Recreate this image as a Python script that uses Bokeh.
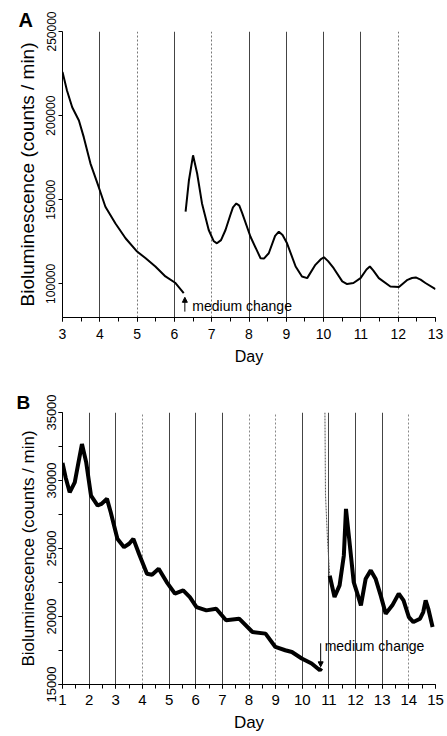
from bokeh.plotting import figure
from bokeh.models import (SingleIntervalTicker, FixedTicker, BasicTickFormatter, Range1d,
                          Label, Arrow, NormalHead, Grid, Title)
from bokeh.layouts import column
from bokeh.embed import file_html
from bokeh.resources import INLINE

# ---------------- Panel A data ----------------
days_a_before = [3.00, 3.12, 3.26, 3.44, 3.57, 3.75, 3.97, 4.15, 4.42, 4.69, 5.00, 5.23, 5.49, 5.76, 6.03, 6.25]
biolum_a_before = [226000, 214900, 205000, 197100, 187200, 171500, 157600, 145800, 135900, 127100,
                   119200, 115200, 110300, 104400, 100500, 94500]
days_a_after = [6.30, 6.39, 6.50, 6.61, 6.74, 6.92, 7.05, 7.14, 7.25, 7.37, 7.50, 7.57, 7.66, 7.74, 7.82,
                8.04, 8.31, 8.40, 8.53, 8.70, 8.80, 8.90, 9.02, 9.25, 9.42, 9.56, 9.78, 9.92, 10.01,
                10.12, 10.27, 10.50, 10.63, 10.80, 10.99, 11.15, 11.24, 11.33, 11.48, 11.79, 12.02,
                12.25, 12.37, 12.47, 12.60, 12.73, 13.00]
biolum_a_after = [142900, 161600, 176400, 165600, 147800, 132000, 125500, 124100, 126000, 132000, 140900,
                  145500, 147800, 146500, 141900, 128000, 115200, 115000, 118200, 128500, 131000, 129000,
                  124100, 110300, 104400, 103400, 111300, 114500, 115800, 113500, 109300, 101500, 99900,
                  100500, 103400, 108500, 110300, 108000, 103400, 98400, 98100, 102400, 103500, 103800,
                  102500, 100500, 96900]
a_yticks = [100000, 150000, 200000, 250000]
a_day_lines_solid = [4, 6, 8, 9, 10, 11]
a_day_lines_faint = [5, 7, 12]
a_change_day = 6.28

# ---------------- Panel B data ----------------
days_b_before = [1.00, 1.12, 1.27, 1.46, 1.60, 1.73, 1.89, 2.07, 2.32, 2.46, 2.67, 2.81, 3.06, 3.31, 3.50,
                 3.66, 3.87, 4.17, 4.36, 4.61, 4.91, 5.22, 5.53, 5.78, 6.03, 6.40, 6.77, 7.14, 7.63, 8.13,
                 8.62, 8.99, 9.36, 9.61, 9.98, 10.35, 10.66, 10.72]
biolum_b_before = [31300, 30200, 29130, 29860, 31330, 32680, 31330, 28890, 28160, 28280, 28650, 27660,
                   25710, 25100, 25350, 25710, 24610, 23140, 23070, 23510, 22530, 21680, 21920, 21430,
                   20690, 20450, 20570, 19720, 19840, 18860, 18740, 17760, 17520, 17390, 16910, 16540,
                   16050, 16200]
days_b_spike = [10.85, 10.87, 10.95, 11.03]
biolum_b_spike = [35000, 29000, 25500, 23000]
days_b_after = [11.03, 11.21, 11.40, 11.56, 11.64, 11.76, 11.93, 12.05, 12.20, 12.38,
                12.57, 12.75, 12.95, 13.13, 13.38, 13.62, 13.80, 14.00, 14.17, 14.42, 14.54, 14.63,
                14.73, 14.89]
biolum_b_after = [23000, 21430, 22290, 24490, 27910, 25710, 22530, 21800, 20820,
                  22780, 23390, 22780, 21500, 20210, 20820, 21680, 21180, 19960, 19590, 19840, 20330,
                  21180, 20570, 19230]
b_day_lines_solid = [2, 3, 5, 6, 7, 10, 11, 12, 13]
b_day_lines_faint = [4, 8, 9, 14]
b_change_day = 10.69

FONT = "Liberation Sans"


def style(p, tick_font, label_font, ytick_font, ylabel_font):
    p.outline_line_color = None
    p.xgrid.grid_line_color = None
    p.ygrid.grid_line_color = None
    for ax in (p.xaxis[0], p.yaxis[0]):
        ax.axis_line_color = "black"
        ax.major_tick_line_color = "black"
        ax.minor_tick_line_color = "black"
        ax.major_tick_out = 4
        ax.major_tick_in = 0
        ax.minor_tick_out = 4
        ax.minor_tick_in = 0
        ax.major_label_text_font = FONT
        ax.major_label_text_color = "black"
        ax.axis_label_text_font = FONT
        ax.axis_label_text_font_style = "normal"
        ax.axis_label_text_color = "black"
    p.xaxis[0].major_label_text_font_size = tick_font
    p.xaxis[0].axis_label_text_font_size = label_font
    p.xaxis[0].major_label_standoff = 7
    p.xaxis[0].axis_label_standoff = 6
    p.yaxis[0].major_label_text_font_size = ytick_font
    p.yaxis[0].axis_label_text_font_size = ylabel_font
    p.yaxis[0].major_label_orientation = "vertical"
    p.yaxis[0].major_label_standoff = 3
    p.yaxis[0].axis_label_standoff = 6
    p.yaxis[0].formatter = BasicTickFormatter(use_scientific=False)


# ---------------- Panel A ----------------
pA = figure(width=447, height=372, output_backend="svg", toolbar_location=None,
            x_range=Range1d(3, 13), y_range=Range1d(80000, 250000),
            min_border_left=62, min_border_right=12, min_border_top=31, min_border_bottom=55,
            x_axis_label="Day", y_axis_label="Bioluminescence (counts / min)")
pA.title = Title(text="A", align="left", offset=-44, standoff=1, text_font=FONT,
                 text_font_size="20px", text_font_style="bold", text_color="black")
style(pA, "14px", "16px", "12px", "19px")
pA.xaxis[0].ticker = SingleIntervalTicker(interval=1, num_minor_ticks=2)
pA.yaxis[0].ticker = FixedTicker(ticks=a_yticks)
pA.yaxis[0].minor_tick_line_color = None

pA.add_layout(Grid(dimension=0, ticker=FixedTicker(ticks=a_day_lines_solid),
                   grid_line_color="#444444", grid_line_width=1))
pA.add_layout(Grid(dimension=0, ticker=FixedTicker(ticks=a_day_lines_faint),
                   grid_line_color="#777777", grid_line_width=1, grid_line_dash="2 2"))

pA.line(days_a_before, biolum_a_before, line_color="black", line_width=2)
pA.line(days_a_after, biolum_a_after, line_color="black", line_width=2)

pA.add_layout(Arrow(end=NormalHead(size=5, fill_color="black", line_color="black"),
                    x_start=a_change_day, y_start=83500, x_end=a_change_day, y_end=92000,
                    line_color="black", line_width=1))
pA.add_layout(Label(x=6.48, y=86600, text="medium change", text_font=FONT, text_font_size="14px",
                    text_baseline="middle", text_align="left", text_color="black"))

# ---------------- Panel B ----------------
pB = figure(width=447, height=364, output_backend="svg", toolbar_location=None,
            x_range=Range1d(1, 15), y_range=Range1d(15000, 35000),
            min_border_left=59, min_border_right=10, min_border_top=40, min_border_bottom=52,
            x_axis_label="Day", y_axis_label="Bioluminescence (counts / min)")
pB.title = Title(text="B", align="left", offset=-46, standoff=0, text_font=FONT,
                 text_font_size="19px", text_font_style="bold", text_color="black")
style(pB, "15px", "17px", "13px", "17px")
pB.xaxis[0].major_label_standoff = 6
pB.xaxis[0].axis_label_standoff = 5
pB.xaxis[0].ticker = SingleIntervalTicker(interval=1, num_minor_ticks=2)
pB.yaxis[0].ticker = SingleIntervalTicker(interval=5000, num_minor_ticks=2)

pB.add_layout(Grid(dimension=0, ticker=FixedTicker(ticks=b_day_lines_solid),
                   grid_line_color="#444444", grid_line_width=1))
pB.add_layout(Grid(dimension=0, ticker=FixedTicker(ticks=b_day_lines_faint),
                   grid_line_color="#888888", grid_line_width=1, grid_line_dash="2 2"))

pB.line(days_b_before, biolum_b_before, line_color="black", line_width=4)
pB.line(days_b_spike, biolum_b_spike, line_color="#555555", line_width=1, line_dash="2 1")
pB.line(days_b_after, biolum_b_after, line_color="black", line_width=4)

pB.add_layout(Arrow(end=NormalHead(size=5, fill_color="black", line_color="black"),
                    x_start=b_change_day, y_start=18030, x_end=b_change_day, y_end=16300,
                    line_color="black", line_width=1))
pB.add_layout(Label(x=10.84, y=17810, text="medium change", text_font=FONT, text_font_size="14px",
                    text_baseline="middle", text_align="left", text_color="black"))

layout = column(pA, pB, spacing=0)
open("out.html", "w").write(file_html(layout, INLINE))
